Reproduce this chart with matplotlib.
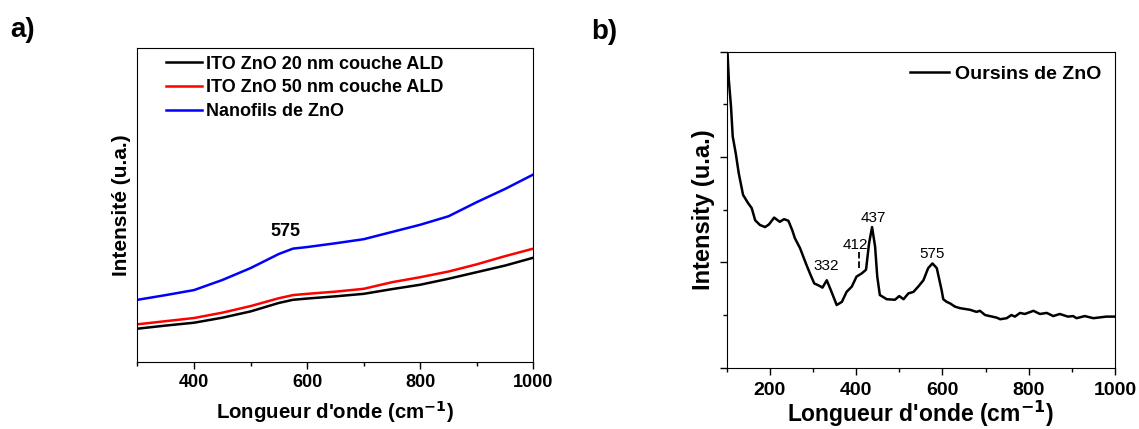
import matplotlib
matplotlib.use("Agg")
import matplotlib.pyplot as plt
from matplotlib.ticker import MultipleLocator, NullFormatter

plt.rcParams['font.family'] = ['Liberation Sans', 'DejaVu Sans']
plt.rcParams['font.weight'] = 'bold'
plt.rcParams['mathtext.default'] = 'bf'

# panel a) : three Raman spectra (arbitrary units)
wn_a = [300, 350, 400, 450, 500, 550, 575, 600, 650, 700, 750, 800, 850, 900, 950, 1000]
ald20 = [0.107, 0.117, 0.126, 0.142, 0.162, 0.189, 0.199, 0.203, 0.210, 0.218, 0.233, 0.247, 0.266, 0.287, 0.308, 0.333]
ald50 = [0.121, 0.131, 0.141, 0.158, 0.179, 0.204, 0.214, 0.218, 0.225, 0.234, 0.255, 0.271, 0.289, 0.312, 0.338, 0.362]
nanofils = [0.199, 0.214, 0.230, 0.262, 0.300, 0.345, 0.362, 0.367, 0.379, 0.392, 0.415, 0.438, 0.465, 0.510, 0.552, 0.598]

# panel b) : ZnO urchins spectrum
wn_b = [100, 102, 105, 110, 114, 121, 128, 138, 150, 158, 166, 177, 189, 198, 210, 223,
        233, 243, 252, 258, 270, 285, 295, 303, 316, 322, 332, 343, 355, 367, 378, 390,
        401, 413, 423, 430, 437, 444, 449, 455, 471, 490, 500, 510, 521, 533, 544, 556,
        567, 577, 587, 598, 602, 610, 618, 629, 641, 664, 679, 687, 699, 726, 734, 749,
        760, 768, 780, 791, 811, 826, 842, 857, 872, 891, 903, 911, 930, 950, 980, 1000]
oursins = [6.30, 5.97, 5.46, 4.96, 4.39, 4.07, 3.69, 3.28, 3.12, 3.03, 2.80, 2.71, 2.67, 2.72, 2.85, 2.77,
           2.82, 2.79, 2.61, 2.46, 2.27, 1.95, 1.75, 1.60, 1.55, 1.52, 1.66, 1.44, 1.19, 1.25, 1.44, 1.54,
           1.73, 1.79, 1.86, 2.36, 2.67, 2.30, 1.73, 1.38, 1.30, 1.29, 1.36, 1.30, 1.41, 1.44, 1.54, 1.66,
           1.89, 1.98, 1.89, 1.48, 1.30, 1.25, 1.22, 1.16, 1.13, 1.10, 1.06, 1.08, 1.00, 0.95, 0.92, 0.94,
           1.00, 0.97, 1.04, 1.02, 1.08, 1.02, 1.04, 0.98, 1.02, 0.97, 0.98, 0.94, 0.98, 0.94, 0.97, 0.97]

fig = plt.figure(figsize=(11.39, 4.29), dpi=100)

# ---- a) ----
ax1 = fig.add_axes([0.1207, 0.1555, 0.3475, 0.7319])
ax1.plot(wn_a, ald20, color='black', lw=1.8, label='ITO ZnO 20 nm couche ALD')
ax1.plot(wn_a, ald50, color='red', lw=1.8, label='ITO ZnO 50 nm couche ALD')
ax1.plot(wn_a, nanofils, color='blue', lw=1.8, label='Nanofils de ZnO')
ax1.set_xlim(300, 1000)
ax1.set_ylim(0, 1)
ax1.xaxis.set_major_locator(MultipleLocator(200))
ax1.xaxis.set_minor_locator(MultipleLocator(100))
ax1.set_yticks([])
ax1.tick_params(axis='x', which='both', direction='out', labelsize=13, width=1)
ax1.tick_params(axis='x', which='major', length=5)
ax1.tick_params(axis='x', which='minor', length=3)
ax1.text(561, 0.416, '575', ha='center', va='center', fontsize=13, fontweight='bold')
ax1.set_xlabel("Longueur d'onde (cm$^{-1}$)", fontsize=14.7, fontweight='bold', labelpad=6)
ax1.set_ylabel('Intensité (u.a.)', fontsize=15, fontweight='bold', labelpad=5)
ax1.legend(loc='upper left', frameon=False, fontsize=13, handlelength=2.0,
           handletextpad=0.25, labelspacing=0.38, borderaxespad=0.0, bbox_to_anchor=(0.053, 1.0))
fig.text(0.009, 0.93, 'a)', fontsize=20, fontweight='bold', va='center')

# ---- b) ----
ax2 = fig.add_axes([0.638, 0.1429, 0.3409, 0.7366])
ax2.plot(wn_b, oursins, color='black', lw=1.8, label='Oursins de ZnO')
ax2.set_xlim(100, 1000)
ax2.set_ylim(0, 6)
ax2.xaxis.set_major_locator(MultipleLocator(200))
ax2.xaxis.set_minor_locator(MultipleLocator(100))
ax2.yaxis.set_major_locator(MultipleLocator(2))
ax2.yaxis.set_minor_locator(MultipleLocator(1))
ax2.yaxis.set_major_formatter(NullFormatter())
ax2.tick_params(axis='both', which='both', direction='out', width=1)
ax2.tick_params(axis='both', which='major', length=5)
ax2.tick_params(axis='both', which='minor', length=3)
ax2.tick_params(axis='x', labelsize=14, pad=5)
ax2.text(330, 1.94, '332', ha='center', va='center', fontsize=11, fontweight='normal')
ax2.text(399, 2.33, '412', ha='center', va='center', fontsize=11, fontweight='normal')
ax2.plot([406, 406], [1.89, 2.2], color='black', lw=1.3, ls='--')
ax2.text(440, 2.84, '437', ha='center', va='center', fontsize=11, fontweight='normal')
ax2.text(577, 2.16, '575', ha='center', va='center', fontsize=11, fontweight='normal')
ax2.set_xlabel("Longueur d'onde (cm$^{-1}$)", fontsize=16.5, fontweight='bold', labelpad=0)
ax2.set_ylabel('Intensity (u.a.)', fontsize=17, fontweight='bold', labelpad=0)
ax2.legend(loc='upper right', frameon=False, fontsize=14, handlelength=2.0,
           handletextpad=0.3, borderaxespad=0.3)
fig.text(0.519, 0.925, 'b)', fontsize=20, fontweight='bold', va='center')

fig.savefig('out.png', dpi=100)
